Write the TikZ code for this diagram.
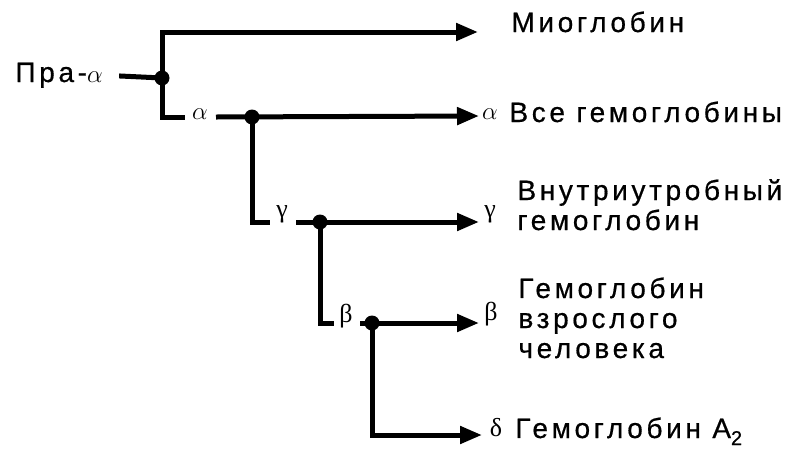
\documentclass[tikz,border=0pt]{standalone}
\usepackage{fontspec}
\setmainfont{Liberation Sans}[LetterSpace=13, FakeBold=0.6]
\newfontfamily\greekfont{Liberation Serif}
\usetikzlibrary{arrows.meta,positioning}

\begin{document}
\begin{tikzpicture}[x=1pt, y=-1pt, line width=5pt, >={Triangle[length=22pt,width=17pt]},
  font=\fontsize{28}{30}\selectfont]
\tikzset{dot/.style={circle, fill=black, inner sep=0pt, minimum size=15pt},
  chain/.style={inner sep=0pt, font=\fontsize{26}{28}\selectfont},
  prod/.style={anchor=base west, align=left, inner sep=0pt}}
\useasboundingbox (0,0) rectangle (796,448);

% branch points
\node[dot] (d0) at (162,78) {};
\node[dot] (d1) at (252,117) {};
\node[dot] (d2) at (320,222) {};
\node[dot] (d3) at (372,323) {};

% chain labels on the tree
\node[anchor=base west, inner sep=0pt] (pra) at (13,82) {Пра-$\alpha$};
\node[chain] (la) at (200,114) {$\alpha$};
\node[chain] (lg) at (282,214) {\greekfont γ};
\node[chain] (lb) at (346,316) {\greekfont β};
\coordinate (a0) at (185,117);  \coordinate (a1) at (216,117);
\coordinate (g0) at (270,222);  \coordinate (g1) at (296,222);
\coordinate (b0) at (334,323);  \coordinate (b1) at (360,323);

% arrow ends
\coordinate (tM) at (478,32);
\coordinate (tA) at (479,116);
\coordinate (tG) at (479,222);
\coordinate (tB) at (479,323);
\coordinate (tD) at (482,435);

% products
\node[chain] (ra) at (490,114) {$\alpha$};
\node[chain] (rg) at (490,214) {\greekfont γ};
\node[chain] (rb) at (491,314) {\greekfont β};
\node[chain] (rd) at (496,428) {\greekfont δ};
\node[prod] (mio) at (509,32) {Миоглобин};
\node[prod] (all) at (507,122) {Все гемоглобины};
\node[prod] (fetal) at (515,230) {Внутриутробный\\гемоглобин};
\node[prod] (adult) at (516,358) {Гемоглобин\\взрослого\\человека};
\node[prod] (hba2) at (513,438) {Гемоглобин A\raisebox{-7pt}{\fontsize{20}{20}\selectfont 2}};

% tree
\draw[shorten <=14pt] (pra.east) -- (d0.center);
\draw[->] (d0.center) |- (tM);
\draw (d0.center) |- (a0);
\draw[->] (a1) -- (tA);
\draw (d1.center) |- (g0);
\draw[->] (g1) -- (tG);
\draw (d2.center) |- (b0);
\draw[->] (b1) -- (tB);
\draw[->] (d3.center) |- (tD);
\end{tikzpicture}
\end{document}
